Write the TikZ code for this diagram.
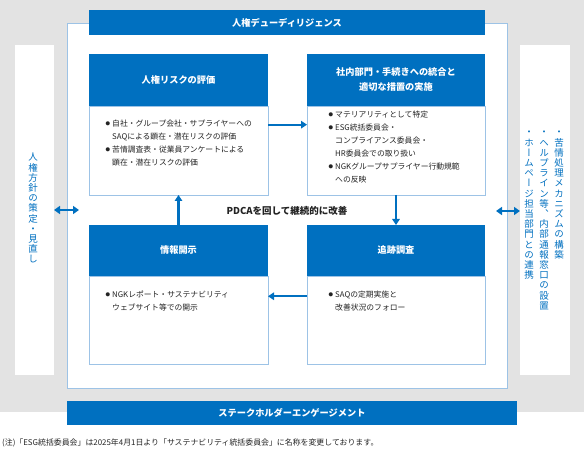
\documentclass[tikz,border=0pt]{standalone}
\usepackage{fontspec}
\setmainfont{Noto Sans CJK JP}
\newfontfamily\tatefont[RawFeature=+vert]{Noto Sans CJK JP}
\usetikzlibrary{arrows.meta,calc}
\definecolor{nblue}{RGB}{0,112,192}
\definecolor{lblue}{RGB}{157,195,230}
\definecolor{graybg}{RGB}{227,227,227}
\definecolor{tx}{RGB}{35,35,35}
\newcommand\bul{\makebox[6.5pt][l]{\raisebox{0.12em}{\fontsize{4.5}{4.5}\selectfont ●}}}
\newcommand\ind{\hspace*{6.5pt}}
\ExplSyntaxOn
\NewDocumentCommand\vstack{m}{
  \vbox:n {
    \baselineskip=10.2pt \lineskiplimit=-20pt \lineskip=0pt
    \tl_map_inline:nn {#1} { \hbox_to_wd:nn {1em} { \hss ##1 \hss } }
  }
}
\ExplSyntaxOff
\begin{document}
\begin{tikzpicture}[x=1pt,y=-1pt,
  blk/.style={inner sep=0pt, outer sep=0pt},
  strip/.style={blk, fill=white},
  hdr/.style={blk, fill=nblue, text=white, font=\fontsize{9.2}{14}\selectfont\bfseries, align=center},
  body/.style={blk, fill=white, draw=lblue, line width=0.8pt},
  btext/.style={inner sep=0pt, anchor=north west, align=left, text=tx, font=\fontsize{7.8}{13}\selectfont},
  vtext/.style={inner sep=0pt, anchor=north, text=nblue, font=\fontsize{9.5}{10.2}\selectfont\tatefont},
  arr/.style={draw=nblue, line width=2.2pt, -{Triangle[length=6pt,width=7.5pt]}},
  darr/.style={draw=nblue, line width=2.4pt, {Triangle[length=6pt,width=8pt]}-{Triangle[length=6pt,width=8pt]}}
]
\useasboundingbox (0,0) rectangle (584,449);
\fill[graybg] (0,0) rectangle (584,412);
% side strips and panel
\node[strip, minimum width=39pt, minimum height=330pt] (L) at (34.5,210) {};
\node[strip, minimum width=50pt, minimum height=330pt] (R) at (545,210) {};
\node[body, minimum width=440pt, minimum height=365pt] (P) at (287,205.5) {};
% top and bottom bars
\node[hdr, minimum width=396pt, minimum height=25pt] (T) at (287,22.5) {人権デューディリジェンス};
\node[hdr, minimum width=450pt, minimum height=24pt] (B) at (292,413) {ステークホルダーエンゲージメント};
% boxes
\node[body, minimum width=179pt, minimum height=89pt] (b1) at (178.5,150.5) {};
\node[hdr, minimum width=179pt, minimum height=52pt] (h1) at (178.5,80) {人権リスクの評価};
\node[body, minimum width=178pt, minimum height=89pt] (b2) at (396,150.5) {};
\node[hdr, minimum width=178pt, minimum height=52pt] (h2) at (396,80) {社内部門・手続きへの統合と\\[1pt]適切な措置の実施};
\node[body, minimum width=179pt, minimum height=88pt] (b3) at (178.5,320) {};
\node[hdr, minimum width=179pt, minimum height=51pt] (h3) at (178.5,250.5) {情報開示};
\node[body, minimum width=178pt, minimum height=88pt] (b4) at (396,320) {};
\node[hdr, minimum width=178pt, minimum height=51pt] (h4) at (396,250.5) {追跡調査};
% body texts
\node[btext] (t1) at (105.5,120) {\bul 自社・グループ会社・サプライヤーへの\\\ind SAQによる顕在・潜在リスクの評価\\\bul 苦情調査表・従業員アンケートによる\\\ind 顕在・潜在リスクの評価};
\node[btext] (t2) at (328.5,111) {\bul マテリアリティとして特定\\\bul ESG統括委員会・\\\ind コンプライアンス委員会・\\\ind HR委員会での取り扱い\\\bul NGKグループサプライヤー行動規範\\\ind への反映};
\node[btext] (t3) at (105.5,290.5) {\bul NGKレポート・サステナビリティ\\\ind ウェブサイト等での開示};
\node[btext] (t4) at (328.5,290.5) {\bul SAQの定期実施と\\\ind 改善状況のフォロー};
% center label
\node[inner sep=0pt, text=tx, font=\fontsize{9.5}{11}\selectfont\bfseries] (pdca) at (287,211) {PDCAを回して継続的に改善};
% vertical texts
\node[vtext] (lt) at (33,153) {\vstack{人権方針の策定・見直し}};
\node[vtext] (rt1) at (559,131) {\vstack{・苦情処理メカニズムの構築}};
\node[vtext] (rt2) at (544,131) {\vstack{・ヘルプライン等、内部通報窓口の設置}};
\node[vtext] (rt3) at (529,131) {\vstack{・ホームページ担当部門との連携}};
% note
\node[inner sep=0pt, anchor=west, text=tx, font=\fontsize{7.9}{9}\selectfont] (note) at (2,443) {(注)「ESG統括委員会」は2025年4月1日より「サステナビリティ統括委員会」に名称を変更しております。};
% arrows
\coordinate (a1) at ($(b1.north east)!0.21!(b1.south east)$);
\draw[arr] (a1) -- (a1 -| b2.west);
\draw[arr] (b2.south) -- (h4.north);
\coordinate (a3) at ($(b4.north west)!0.23!(b4.south west)$);
\draw[arr] (a3) -- (a3 -| b3.east);
\draw[arr] (h3.north) -- (b1.south);
\coordinate (lc) at (79,210);
\coordinate (rc) at (496,211);
\draw[darr] (L.east) -- (lc);
\draw[darr] (rc) -- (rc -| R.west);
\end{tikzpicture}
\end{document}
